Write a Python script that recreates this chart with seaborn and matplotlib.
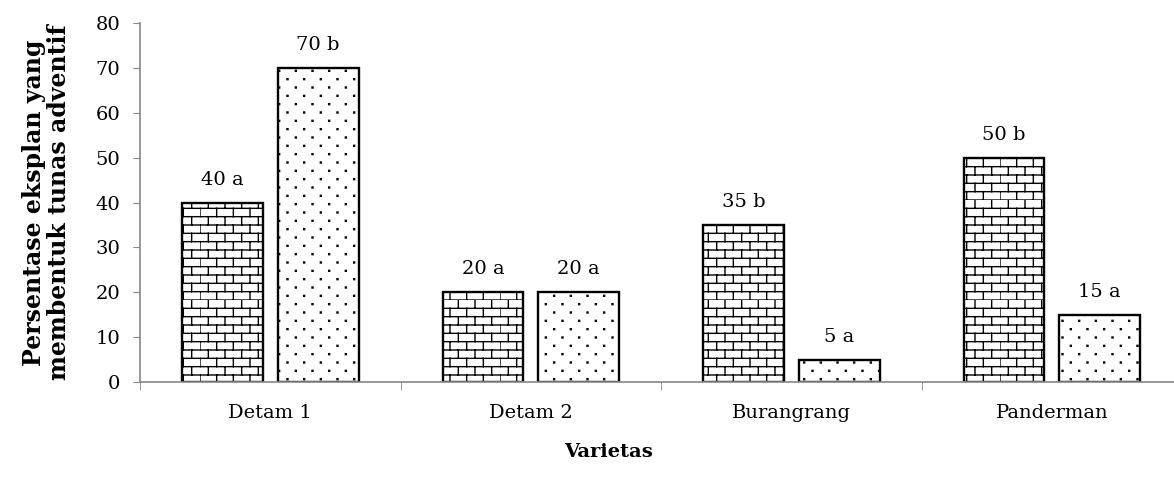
import numpy as np
import pandas as pd
import matplotlib
matplotlib.use("Agg")
import matplotlib.pyplot as plt
import matplotlib.hatch as mhatch
from matplotlib.path import Path as MPath
import seaborn as sns
import warnings

warnings.filterwarnings("ignore")

varietas = ["Detam 1", "Detam 2", "Burangrang", "Panderman"]
perlakuan = ["A", "B"]
nilai_a = [40, 20, 35, 50]
nilai_b = [70, 20, 5, 15]
notasi_a = ["a", "a", "b", "b"]
notasi_b = ["b", "a", "a", "a"]


class BrickHatch(mhatch.HatchPatternBase):
    """Brick pattern, triggered by 'B' in the hatch string."""
    def __init__(self, hatch, density):
        n = hatch.count("B")
        self.rows = 12 * n
        self.cols = 6 * n
        self.num_vertices = self.rows * (1 + self.cols) * 2 if n else 0

    def set_vertices_and_codes(self, vertices, codes):
        h = 1.0 / self.rows
        w = 1.0 / self.cols
        segs = []
        for r in range(self.rows):
            y0 = r * h
            segs.append(((0, y0), (1, y0)))
            shift = 0 if r % 2 == 0 else w / 2
            for c in range(self.cols):
                x = c * w + shift
                segs.append(((x, y0), (x, y0 + h)))
        vertices[:] = np.array(segs, dtype=float).reshape(-1, 2)
        codes[0::2] = MPath.MOVETO
        codes[1::2] = MPath.LINETO


class DotHatch(mhatch.HatchPatternBase):
    """Staggered small dots, triggered by 'D' in the hatch string."""
    def __init__(self, hatch, density):
        n = hatch.count("D")
        self.rows = 12 * n
        self.cols = 6 * n
        self.num_vertices = self.rows * self.cols * 5 if n else 0

    def set_vertices_and_codes(self, vertices, codes):
        h = 1.0 / self.rows
        w = 1.0 / self.cols
        s = 0.005
        pts = []
        for r in range(self.rows):
            y = (r + 0.5) * h
            shift = 0.25 * w if r % 2 == 0 else 0.75 * w
            for c in range(self.cols):
                x = c * w + shift
                pts += [(x - s, y - s), (x + s, y - s), (x + s, y + s),
                        (x - s, y + s), (x - s, y - s)]
        vertices[:] = np.array(pts, dtype=float)
        cd = np.array([MPath.MOVETO, MPath.LINETO, MPath.LINETO,
                       MPath.LINETO, MPath.CLOSEPOLY])
        codes[:] = np.tile(cd, self.rows * self.cols)


mhatch._hatch_types.append(BrickHatch)
mhatch._hatch_types.append(DotHatch)

df = pd.DataFrame({
    "Varietas": varietas * 2,
    "Perlakuan": [perlakuan[0]] * 4 + [perlakuan[1]] * 4,
    "Nilai": nilai_a + nilai_b,
})

sns.set_style("white")
plt.rcParams["font.family"] = ["DejaVu Serif"]
plt.rcParams["text.color"] = "black"
plt.rcParams["axes.labelcolor"] = "black"
plt.rcParams["xtick.color"] = "black"
plt.rcParams["ytick.color"] = "black"
plt.rcParams["hatch.linewidth"] = 1.0
plt.rcParams["hatch.color"] = "black"

fig = plt.figure(figsize=(11.74, 4.84), dpi=100)
# the x axis runs a little past the right edge of the image
ax = fig.add_axes([0.1193, 0.2107, 0.8876, 0.7418])

sns.barplot(data=df, x="Varietas", y="Nilai", hue="Perlakuan",
            order=varietas, hue_order=perlakuan,
            palette=["white", "white"], width=0.736, gap=0.158,
            edgecolor="black", linewidth=1.7, legend=False, ax=ax)

labels = [notasi_a, notasi_b]
vals = [nilai_a, nilai_b]
hatches = ["B", "D"]
for k, cont in enumerate(ax.containers):
    for bar in cont:
        bar.set_hatch(hatches[k])
    ax.bar_label(cont, labels=[f"{v} {n}" for v, n in zip(vals[k], labels[k])],
                 padding=10, fontsize=14, color="black")

ax.set_ylim(0, 80)
ax.set_xlim(-0.5, 3.5)
ax.set_yticks(range(0, 81, 10))
ax.set_xticks(range(4))
ax.set_xticks([-0.5, 0.5, 1.5, 2.5, 3.5], minor=True)
ax.tick_params(axis="x", which="major", length=0, pad=16, labelsize=14, labelcolor="black")
ax.tick_params(axis="x", which="minor", length=6, color="#888888", direction="out", bottom=True)
ax.tick_params(axis="y", length=5, color="#888888", direction="out", labelsize=14, pad=9,
               left=True, labelcolor="black")

for side in ["top", "right"]:
    ax.spines[side].set_visible(False)
for side in ["left", "bottom"]:
    ax.spines[side].set_color("#888888")
    ax.spines[side].set_linewidth(1.2)

ax.set_xlabel("Varietas", fontsize=14, fontweight="bold", color="black")
ax.xaxis.set_label_coords(0.45, -0.17)
ax.set_ylabel("Persentase eksplan yang\nmembentuk tunas adventif", fontsize=17,
              fontweight="bold", labelpad=18, linespacing=1.05, color="black")

fig.savefig("out.png", dpi=100)
